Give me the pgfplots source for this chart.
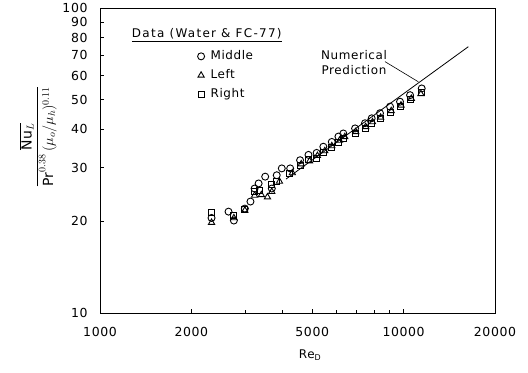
\documentclass[border=0pt]{standalone}
\usepackage{fontspec}
\setmainfont{DejaVu Sans}[LetterSpace=5]
\usepackage{pgfplots}
\pgfplotsset{compat=1.18}
\begin{document}
\begin{tikzpicture}
\begin{loglogaxis}[
  name=ax,
  scale only axis, width=395bp, height=305bp,
  xmin=1000, xmax=20000, ymin=10, ymax=100,
  axis line style={line width=0.9bp},
  xtick={1000,2000,5000,10000,20000},
  xticklabels={1000,2000,5000,10000,20000},
  minor xtick={3000,4000,6000,7000,8000,9000},
  ytick={10,20,30,40,50,60,70,80,90,100},
  yticklabels={10,20,30,40,50,60,70,80,90,100},
  minor y tick style={draw=none},
  tick pos=left, tick align=inside,
  major tick length=4bp, minor tick length=3bp,
  tick style={line width=0.7bp, black},
  ticklabel style={font=\fontsize{12.5}{14}\selectfont},
  yticklabel style={xshift=-9bp},
  xticklabel style={yshift=-11bp},
  clip=false,
  reverse legend,
  legend style={draw=none, fill=none, at={(0.239,0.875)}, anchor=north west,
    font=\fontsize{12}{14}\selectfont, row sep=3bp,
    nodes={text height=9bp, text depth=3bp, inner sep=2bp},
    /tikz/every odd column/.append style={column sep=4bp}},
  legend cell align=left,
]
% Right (squares)
\addplot[only marks, mark=square, mark size=3bp, line width=0.9bp, mark options={fill=white}] coordinates {
(2330,21.3) (2750,20.9) (3000,21.8) (3230,25.0) (3350,25.3) (3680,26.4) (3820,27.0)
(4200,28.6) (4560,30.5) (4860,31.8) (5170,32.2) (5440,33.6) (5800,34.9) (6100,36.3)
(6330,37.3) (6920,38.7) (7460,40.2) (7850,41.9) (8360,43.4) (9020,45.6) (9730,47.7)
(10500,50.0) (11470,53.0)};
\addlegendentry{Right}
% Left (triangles)
\addplot[only marks, mark=triangle, mark size=3.6bp, line width=0.9bp, mark options={fill=white}] coordinates {
(2330,19.8) (2760,20.5) (3000,21.7) (3230,24.3) (3400,24.4) (3560,24.0) (3680,25.0)
(3900,27.0) (4300,28.8) (4600,30.8) (4900,31.5) (5200,32.8) (5500,34.0) (5800,35.3)
(6150,36.8) (6400,37.8) (6950,39.3) (7500,40.8) (7900,42.3) (8400,43.8) (9100,46.0)
(9800,48.0) (10600,50.5) (11400,52.3)};
\addlegendentry{Left}
% Middle (circles)
\addplot[only marks, mark=o, mark size=3.5bp, line width=0.9bp, mark options={fill=white}] coordinates {
(2330,20.5) (2650,21.5) (2760,20.1) (3000,22.0) (3130,23.2) (3230,25.6) (3330,26.6)
(3500,28.0) (3680,25.6) (3820,28.3) (3970,29.8) (4230,29.8) (4560,31.7) (4860,33.0)
(5170,33.5) (5440,35.1) (5800,36.4) (6100,37.9) (6330,38.8) (6920,40.3) (7460,41.9)
(7850,43.5) (8360,45.2) (9020,47.5) (9730,49.3) (10500,51.8) (11470,54.5)};
\addlegendentry{Middle}
% Numerical prediction
\addplot[black, line width=0.8bp, forget plot] coordinates {(4100,27.5) (16340,74.7)};
\draw[line width=0.6bp] (axis cs:8686,66.7) -- (axis cs:11180,57.3);
\node[align=center, font=\fontsize{12}{15}\selectfont, inner sep=0pt] at (axis cs:6865,66.3) {Numerical\\Prediction};
\node[anchor=west, font=\fontsize{12}{14}\selectfont\addfontfeature{LetterSpace=11}, inner sep=0pt] at (axis cs:1272,81.5) {\underline{Data (Water \& FC-77)}};
\node[rotate=90, font=\fontsize{14}{16}\selectfont] at ([xshift=-62bp]rel axis cs:0,0.578)
  {$\displaystyle\frac{\overline{\mathrm{Nu}_{L}}}{\mathrm{Pr}^{0.38}\,(\mu_{o}/\mu_{h})^{0.11}}$};
\node[font=\fontsize{12}{14}\selectfont] at ([yshift=-42bp]rel axis cs:0.532,0) {Re\textsubscript{D}};
\end{loglogaxis}
\path (ax.south west) ++(-100bp,-59bp) rectangle ++(528bp,372bp);
\end{tikzpicture}
\end{document}
